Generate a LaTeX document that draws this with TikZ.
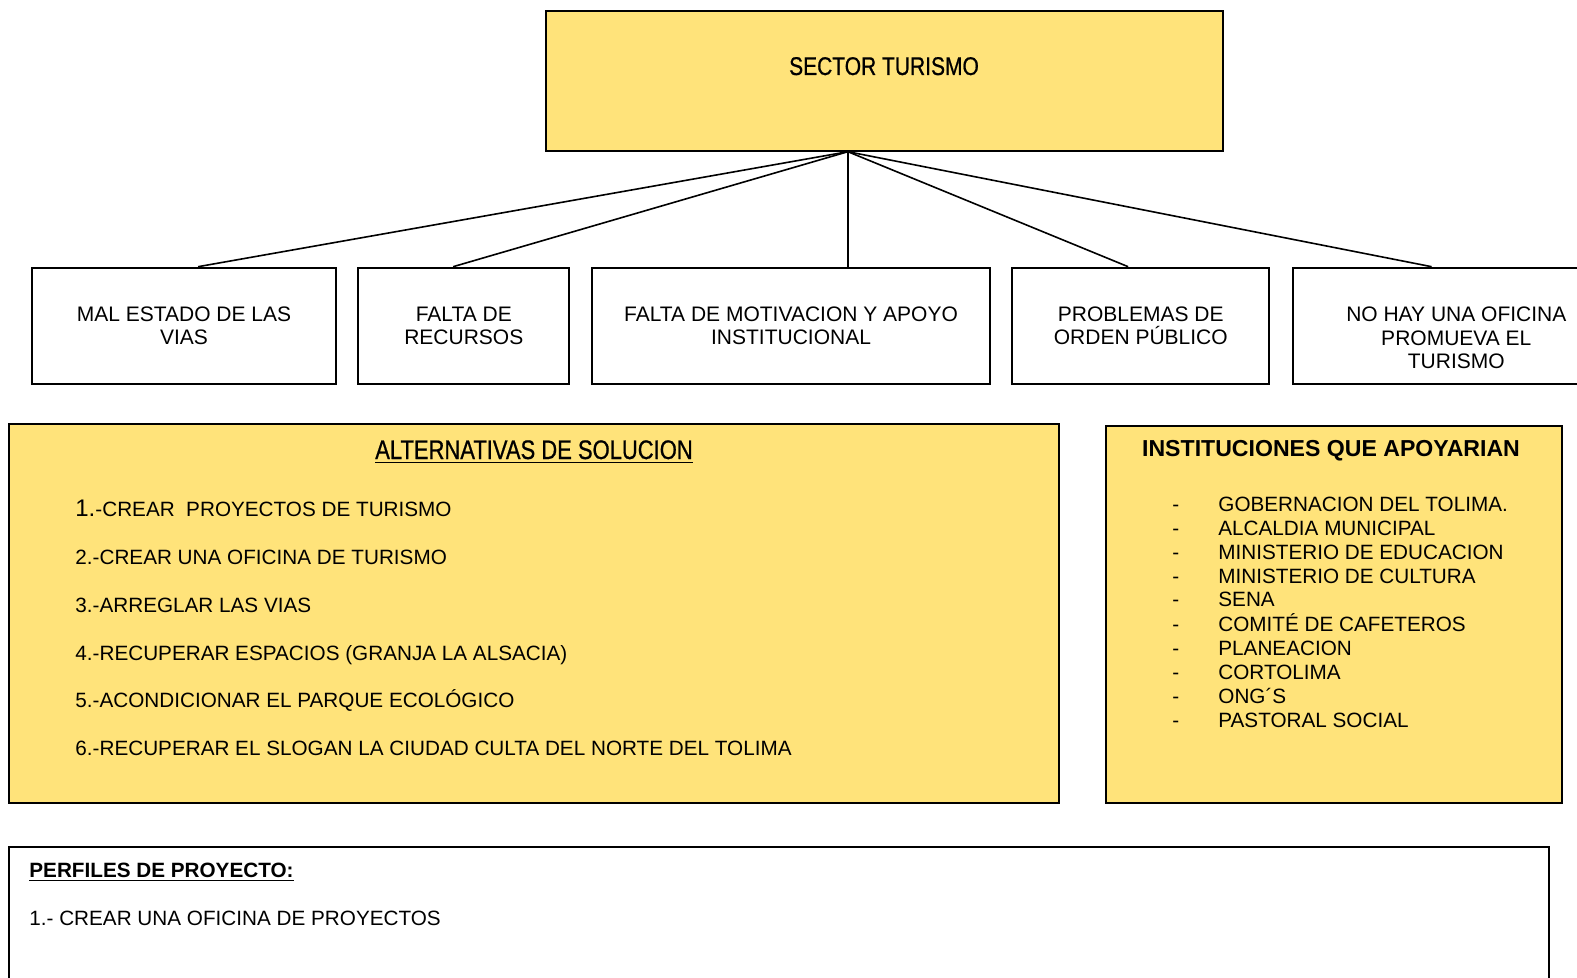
\documentclass[tikz,border=0pt]{standalone}
\usepackage{fontspec}
\setmainfont{Liberation Sans}
\newfontfamily\narrowfont[FakeStretch=0.82, FakeBold=0.7]{Liberation Sans}
\usepackage{xcolor}
\usepackage{tikz}
\usetikzlibrary{calc}
\definecolor{solyellow}{HTML}{FFE37A}
\tikzset{ cause_text/.style = {align=center, inner sep=0pt, font=\fontsize{10.5}{11.7}\selectfont} }
\tikzset{ cause_box/.style = {cause_text, rectangle, draw, line width=1pt} }
\tikzset{ yellow_box/.style = {rectangle, draw, line width=1pt, fill=solyellow, inner sep=0pt} }
\tikzset{ plain_box/.style = {rectangle, draw, line width=1pt, inner sep=0pt} }
\tikzset{ head_text/.style = {anchor=base, inner sep=0pt, font=\narrowfont\fontsize{12.8}{14}\selectfont} }
\tikzset{ item_text/.style = {anchor=base west, inner sep=0pt, font=\fontsize{10.35}{11.9}\selectfont} }
\tikzset{ branch_line/.style = {line width=0.8pt} }

\begin{document}
\begin{tikzpicture}[x=0.5pt, y=-0.5pt]
        \clip (0,0) rectangle (1577,978);
        % sector
        \node [yellow_box, minimum width=338.5pt, minimum height=70pt] (S) at (884.2, 80.7) {};
        \node [head_text] (ST) at (884, 75) {SECTOR TURISMO};
        % causes
        \node [cause_box, minimum width=152pt, minimum height=58.3pt] (V) at (184, 326) {MAL ESTADO DE LAS\\VIAS};
        \node [cause_box, minimum width=105.5pt, minimum height=58.3pt] (R) at (463.8, 326) {FALTA DE\\RECURSOS};
        \node [cause_box, minimum width=198.7pt, minimum height=58.3pt] (M) at (791, 326) {FALTA DE MOTIVACION Y APOYO\\INSTITUCIONAL};
        \node [cause_box, minimum width=128.5pt, minimum height=58.3pt] (P) at (1140.8, 326) {PROBLEMAS DE\\ORDEN PÚBLICO};
        \node [cause_box, minimum width=163.75pt, minimum height=58.3pt] (O) at (1456.3, 326) {};
        \node [cause_text, anchor=north] (OT) at (1456.3, 306.9) {NO HAY UNA OFICINA\\PROMUEVA EL\\TURISMO};
        \coordinate (T) at ($(S.south west)!0.4465!(S.south east)$);
        \draw [branch_line] (T) to ($(V.north west)!0.546!(V.north east)$);
        \draw [branch_line] (T) to ($(R.north west)!0.45!(R.north east)$);
        \draw [branch_line] (T) to (T |- M.north);
        \draw [branch_line] (T) to ($(P.north west)!0.451!(P.north east)$);
        \draw [branch_line] (T) to ($(O.north west)!0.425!(O.north east)$);
        % alternativas
        \node [yellow_box, minimum width=525pt, minimum height=189.35pt] (A) at (534, 613.3) {};
        \node [head_text, font=\narrowfont\fontsize{13.4}{14}\selectfont] (AT) at (534, 459) {\underline{ALTERNATIVAS DE SOLUCION}};
        \node [item_text] (A1) at (75, 516) {{\fontsize{12}{12}\selectfont 1.}-CREAR~ PROYECTOS DE TURISMO};
        \node [item_text] (A2) at (75, 564) {2.-CREAR UNA OFICINA DE TURISMO};
        \node [item_text] (A3) at (75, 612) {3.-ARREGLAR LAS VIAS};
        \node [item_text] (A4) at (75, 660) {4.-RECUPERAR ESPACIOS (GRANJA LA ALSACIA)};
        \node [item_text] (A5) at (75, 707) {5.-ACONDICIONAR EL PARQUE ECOLÓGICO};
        \node [item_text] (A6) at (75, 755) {6.-RECUPERAR EL SLOGAN LA CIUDAD CULTA DEL NORTE DEL TOLIMA};
        % instituciones
        \node [yellow_box, minimum width=228pt, minimum height=188.5pt] (I) at (1334, 614.2) {};
        \node [anchor=base, inner sep=0pt, font=\bfseries\fontsize{11.55}{13}\selectfont] (IT) at (1331, 456.7) {INSTITUCIONES QUE APOYARIAN};
        \node [item_text] (IL) at (1172, 511.7) {\begin{tabular}[t]{@{}p{23pt}@{}l@{}}
                -& GOBERNACION DEL TOLIMA.\\
                -& ALCALDIA MUNICIPAL\\
                -& MINISTERIO DE EDUCACION\\
                -& MINISTERIO DE CULTURA\\
                -& SENA\\
                -& COMITÉ DE CAFETEROS\\
                -& PLANEACION\\
                -& CORTOLIMA\\
                -& ONG´S\\
                -& PASTORAL SOCIAL
        \end{tabular}};
        % perfiles
        \node [plain_box, minimum width=770pt, minimum height=86.5pt] (PP) at (779, 933.5) {};
        \node [item_text, font=\bfseries\fontsize{10.35}{11.9}\selectfont] (PT) at (29, 877) {\underline{PERFILES DE PROYECTO:}};
        \node [item_text] (P1) at (29, 925) {1.- CREAR UNA OFICINA DE PROYECTOS};
\end{tikzpicture}
\end{document}
